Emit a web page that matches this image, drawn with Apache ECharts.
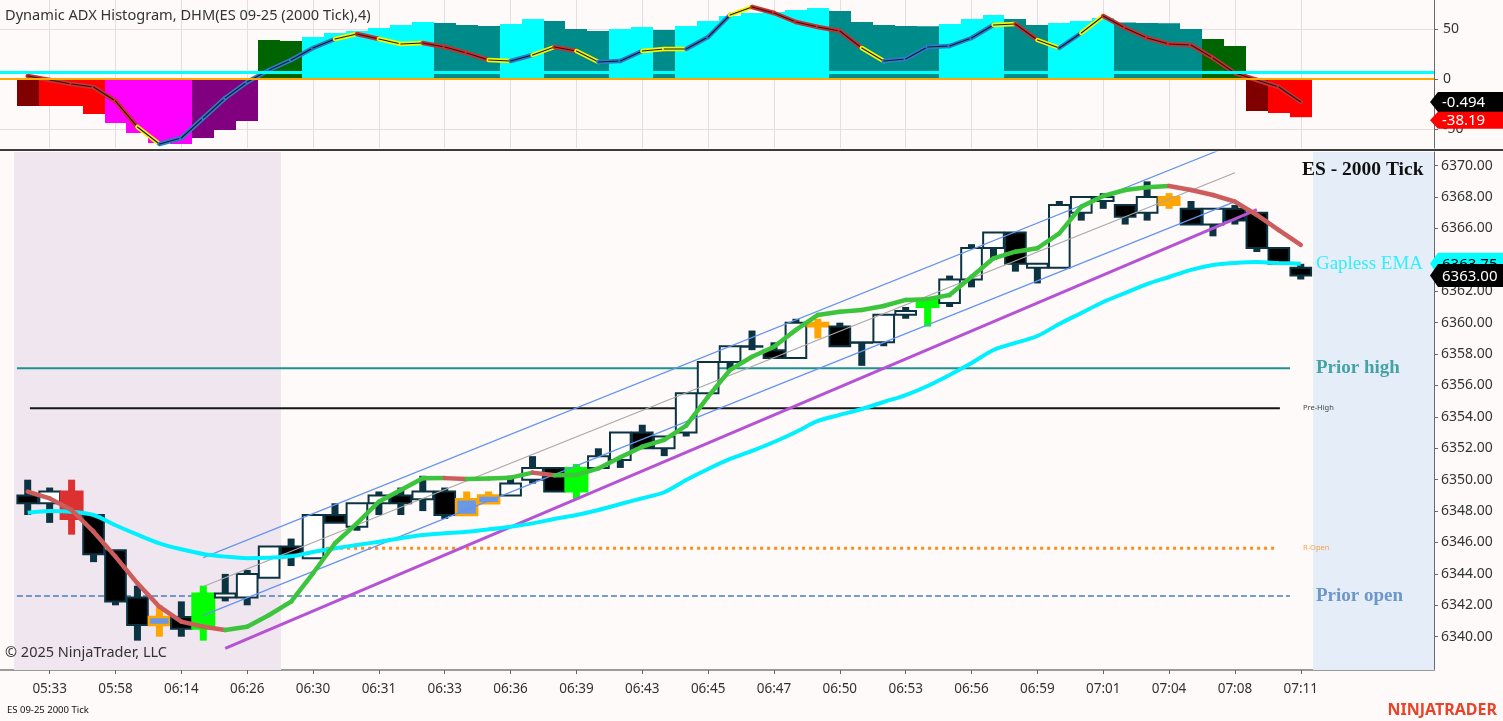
<!DOCTYPE html>
<html><head><meta charset="utf-8">
<script src="https://cdn.jsdelivr.net/npm/echarts@6/dist/echarts.min.js"></script>
<style>html,body{margin:0;padding:0;background:#fdfaf9;overflow:hidden}#c{width:1503px;height:721px}</style>
</head><body><div id="c"></div>
<script>
// ---------- DATA ----------
const timeLabels = ['05:33','05:58','06:14','06:26','06:30','06:31','06:33','06:36','06:39','06:43','06:45','06:47','06:50','06:53','06:56','06:59','07:01','07:04','07:08','07:11'];
const priceTicks = [6340,6342,6344,6346,6348,6350,6352,6354,6356,6358,6360,6362,6364,6366,6368,6370];
const adxTicks = [-50,0,50];

const opens  = [6349.0,6348.5,6349.25,6347.75,6345.5,6342.5,6340.75,6341.25,6340.5,6342.5,6342.5,6343.75,6345.75,6345.0,6347.75,6347.0,6348.5,6349.0,6348.75,6349.25,6347.75,6348.5,6349.0,6350.0,6350.75,6349.25,6350.75,6351.25,6353.0,6352.0,6353.0,6355.5,6357.5,6358.5,6358.25,6357.75,6359.75,6359.75,6358.75,6358.75,6360.5,6361.0,6361.25,6362.75,6364.75,6365.75,6363.5,6363.5,6367.0,6367.75,6367.5,6367.0,6367.5,6367.25,6366.25,6367.25,6367.0,6364.75,6363.5];
const closes = [6348.5,6349.25,6347.5,6345.25,6342.25,6340.75,6341.25,6340.5,6342.75,6342.75,6344.0,6345.75,6345.25,6347.75,6347.25,6348.5,6349.0,6348.5,6349.25,6347.75,6348.75,6349.0,6349.75,6350.75,6349.25,6350.75,6351.5,6353.0,6352.0,6352.75,6355.5,6357.5,6358.5,6358.5,6357.75,6360.0,6360.0,6358.5,6358.75,6360.5,6360.75,6361.5,6362.75,6364.75,6365.75,6363.75,6363.75,6367.5,6368.0,6368.0,6366.75,6368.0,6368.0,6366.25,6367.25,6366.5,6364.75,6363.75,6363.0];
const lows   = [6347.75,6347.25,6346.5,6344.75,6342.0,6339.75,6340.0,6340.0,6339.75,6342.25,6342.0,6343.75,6344.5,6345.0,6347.25,6346.75,6347.75,6347.75,6348.0,6347.5,6347.75,6348.5,6349.0,6349.75,6349.25,6348.75,6350.75,6350.75,6352.0,6351.5,6352.75,6355.5,6357.0,6358.25,6357.75,6357.75,6359.0,6358.5,6357.25,6358.5,6360.25,6359.75,6361.0,6362.25,6364.0,6363.25,6362.5,6363.5,6366.5,6367.25,6366.25,6366.5,6367.25,6366.25,6365.5,6366.25,6364.5,6363.75,6362.75];
const highs  = [6350.0,6349.5,6350.0,6347.75,6345.5,6343.25,6342.0,6342.25,6343.25,6344.0,6344.25,6345.75,6346.25,6347.75,6348.5,6348.5,6349.25,6349.5,6350.25,6349.5,6349.25,6349.25,6350.25,6351.5,6350.75,6351.0,6352.0,6353.0,6353.5,6352.75,6355.5,6357.5,6358.5,6359.5,6358.75,6360.25,6360.25,6360.0,6358.75,6360.5,6361.0,6361.5,6363.0,6365.0,6365.75,6365.75,6363.75,6367.75,6368.0,6368.25,6367.5,6369.0,6368.25,6367.75,6367.25,6367.5,6367.0,6364.75,6363.75];
// bar signal type per candle ('' = none)
const barSignal = ['','','sell','','','','hold','','buy','','','','','','','','','','','','hold','hold','','','','buy','','','','','','','','','','','mark','','','','','buy','','','','','','','','','','','mark','','','','','',''];

const smoothMA = [6349.24,6348.81,6348.07,6346.69,6345.1,6343.4,6341.91,6340.96,6340.64,6340.43,6340.64,6341.38,6342.23,6344.04,6345.95,6347.22,6348.6,6349.34,6350.09,6350.1,6350.05,6350.07,6350.13,6350.45,6350.28,6350.3,6350.72,6351.43,6352.1,6352.53,6353.45,6355.29,6356.99,6357.83,6358.47,6359.54,6360.49,6360.7,6360.81,6361.06,6361.45,6361.5,6361.76,6362.93,6364.1,6364.52,6364.74,6365.69,6367.39,6368.07,6368.45,6368.62,6368.7,6368.45,6368.13,6367.71,6366.86,6365.9,6364.95];
const gaplessEma = [6347.9,6348.0,6347.96,6347.75,6347.1,6346.5,6345.95,6345.57,6345.27,6345.1,6345.0,6345.03,6345.12,6345.4,6345.63,6345.84,6346.05,6346.27,6346.48,6346.59,6346.69,6346.84,6347.01,6347.22,6347.5,6347.75,6348.07,6348.45,6348.82,6349.2,6349.98,6350.68,6351.32,6351.83,6352.4,6353.04,6353.74,6354.13,6354.5,6354.95,6355.39,6355.97,6356.67,6357.43,6358.26,6358.71,6359.15,6359.92,6360.62,6361.32,6361.89,6362.46,6362.91,6363.36,6363.67,6363.8,6363.86,6363.8,6363.75];

const regStart = [8, 6343.2], regEnd = [55, 6369.55], regBand = 1.84;
const trendStart = [9, 6339.25], trendEnd = [56, 6367.2];

const priorHigh = 6357.1, preHigh = 6354.55, rOpen = 6345.63, priorOpen = 6342.6;
const priorHighSpan = [-0.49, 57.51], preHighSpan = [0.1, 57.05], rOpenSpan = [12.0, 56.96], priorOpenSpan = [-0.49, 57.51];
const sessionShade = [-0.62, 11.54];
const futureShade = 58.56;

// DHM histogram
const histValues = [-27,-27,-27,-35,-44,-54,-64,-65,-59,-51,-42,39,38,42,46,48,51,54,57,56,54,53,55,60,58,50,48,50,52,49,53,58,63,66,67,69,71,68,57,54,53,52.8,55,60,64,60,54,56,58,61,56.5,56,55.7,50,40,33,-32,-34,-38.19];
const histState = ['DR','R','R','R','M','M','M','M','P','P','P','DG','DG','C','C','C','C','C','C','T','T','T','C','C','T','T','T','C','C','T','C','C','C','C','C','C','C','T','T','T','T','T','C','C','C','T','T','C','C','C','T','T','T','T','DG','DG','DR','R','R'];
const adxLine = [3,-1,-5,-8,-22,-48,-65,-59,-39,-19,-3,9,19,31,40,45,40,35,36,32,26,19,18,24,32,28,17,18,28,30,30,42,64,72,66,57,52,48,31,18,20,32,33,41,54,55,39,31,46,63,51,41,35,34,21,6,-1,-8,-23];
const adxState = ['','D','D','D','D','D','Y','U','U','U','U','U','U','U','U','Y','D','Y','Y','D','D','D','Y','U','Y','D','Y','U','U','Y','Y','U','U','Y','D','D','D','D','D','Y','U','U','U','U','U','Y','D','Y','U','Y','D','D','D','D','D','D','D','D','D'];
const adxThreshold = 6.3;
const adxLastText = '-0.494';

// ---------- STYLE / LAYOUT ----------
const xMin = -1.262, xMax = 64.07;
const SANS = '"Noto Sans","Open Sans",sans-serif';
const SERIF = '"Liberation Serif","DejaVu Serif",serif';
const histColors = {DR:'#800000', R:'#ff0000', M:'#ff00ff', P:'#800080', DG:'#006400', C:'#00ffff', T:'#008b8b'};
const adxColors = {U:'#2a7ccc', Y:'#f5f500', D:'#cc2f2f'};
const idx = opens.map((_, i) => i);
const labelIdx = timeLabels.map((_, k) => 1 + 3 * k);

const chart = echarts.init(document.getElementById('c'));

function candleRender(params, api) {
  const i = params.dataIndex;
  const x0 = api.value(0);
  const pO = api.coord([x0, api.value(1)]), pC = api.coord([x0, api.value(2)]);
  const pL = api.coord([x0, api.value(3)]), pH = api.coord([x0, api.value(4)]);
  const bw = api.size([1, 0])[0];
  const x = pO[0];
  const up = api.value(2) >= api.value(1);
  const sig = barSignal[i];
  let fill = up ? '#ffffff' : '#000000', stroke = '#0c3342', wick = '#0c3342', bodyW = bw - 1.3, lw = 2;
  if (sig === 'sell') { fill = '#dd3030'; stroke = '#dd3030'; wick = '#dd3030'; bodyW = bw; }
  else if (sig === 'buy') { fill = '#00ff00'; stroke = '#00ff00'; wick = '#00ff00'; bodyW = bw; }
  else if (sig === 'hold') { fill = '#6a98e6'; stroke = '#ffa500'; wick = '#ffa500'; bodyW = bw - 1; lw = 2.5; }
  else if (sig === 'mark') { fill = '#ffa500'; stroke = '#ffa500'; wick = '#ffa500'; bodyW = bw - 1; }
  const top = Math.min(pO[1], pC[1]), bot = Math.max(pO[1], pC[1]);
  const wickW = 7;
  return {type: 'group', children: [
    {type: 'rect', shape: {x: x - wickW / 2, y: pH[1], width: wickW, height: pL[1] - pH[1]}, style: {fill: wick}},
    {type: 'rect', shape: {x: x - bodyW / 2, y: top, width: bodyW, height: Math.max(bot - top, 0.5)}, style: {fill: fill, stroke: stroke, lineWidth: lw}}
  ]};
}

function segRender(values, colorOf, width, core) {
  return function (params, api) {
    const i = params.dataIndex;
    if (i === 0) return null;
    const p0 = api.coord([i - 1, values[i - 1]]), p1 = api.coord([i, values[i]]);
    const ch = [{type: 'line', shape: {x1: p0[0], y1: p0[1], x2: p1[0], y2: p1[1]}, style: {stroke: colorOf(i), lineWidth: width, lineCap: 'round'}}];
    if (core) ch.push({type: 'line', shape: {x1: p0[0], y1: p0[1], x2: p1[0], y2: p1[1]}, style: {stroke: '#1a1a1a', lineWidth: 1.1, lineCap: 'round'}});
    return {type: 'group', children: ch};
  };
}

function histRender(params, api) {
  const i = params.dataIndex;
  const a = api.coord([i - 0.5, 0]), b = api.coord([i + 0.5, api.value(1)]);
  const x = Math.round(a[0]), w = Math.round(b[0]) - x;
  return {type: 'rect', shape: {x: x, y: Math.min(a[1], b[1]), width: w, height: Math.abs(b[1] - a[1])}, style: {fill: histColors[histState[i]]}};
}

function tagRender(tags, styles) {
  return function (params, api) {
    const t = tags[params.dataIndex], s = styles[params.dataIndex];
    const p = api.coord([xMax, t.value]);
    const x0 = p[0] - 4, y = p[1] + (s.dy || 0), h = s.h, x1 = 1503;
    return {type: 'group', children: [
      {type: 'polygon', shape: {points: [[x0, y], [x0 + 8, y - h / 2], [x1, y - h / 2], [x1, y + h / 2], [x0 + 8, y + h / 2]]}, style: {fill: s.bg}},
      {type: 'text', style: {x: x0 + 12, y: y + 1, text: t.text, fill: s.fg, font: '15px ' + SANS, verticalAlign: 'middle'}}
    ]};
  };
}

const mainTags = [{value: gaplessEma[58], text: gaplessEma[58].toFixed(2)}, {value: closes[58], text: closes[58].toFixed(2)}];
const mainTagStyles = [{bg: '#00ffff', fg: '#000', h: 22}, {bg: '#000', fg: '#fff', h: 23}];
const adxTags = [{value: adxLine[58], text: adxLastText}, {value: histValues[58], text: histValues[58].toFixed(2)}];
const adxTagStyles = [{bg: '#000', fg: '#fff', h: 20}, {bg: '#ff0000', fg: '#fff', h: 17, dy: 3}];

function hline(span, v) { return [[span[0], v], [span[1], v]]; }

const option = {
  backgroundColor: '#fdfaf9',
  animation: false,
  grid: [
    {left: 0, width: 1434, top: 0, height: 148},
    {left: 0, width: 1434, top: 152, height: 518}
  ],
  xAxis: [
    {gridIndex: 0, type: 'value', min: xMin, max: xMax, axisLine: {show: false, onZero: false},
     axisTick: {show: false, customValues: labelIdx}, axisLabel: {show: false},
     splitLine: {show: true, lineStyle: {color: '#e4dede', width: 1}}},
    {gridIndex: 1, type: 'value', min: xMin, max: xMax,
     axisLine: {show: true, onZero: false, lineStyle: {color: '#9a9a9a', width: 2}},
     axisTick: {show: true, customValues: labelIdx, length: 4, lineStyle: {color: '#666'}},
     axisLabel: {customValues: labelIdx, formatter: v => timeLabels[Math.round((v - 1) / 3)], color: '#333', fontSize: 13.5, fontFamily: SANS, margin: 12},
     splitLine: {show: false}}
  ],
  yAxis: [
    {gridIndex: 0, type: 'value', position: 'right', min: -69, max: 79,
     axisLine: {show: true, onZero: false, lineStyle: {color: '#6a6a6a'}},
     axisTick: {show: true, customValues: adxTicks, length: 4, lineStyle: {color: '#6a6a6a'}},
     axisLabel: {customValues: adxTicks, color: '#333', fontSize: 14, fontFamily: SANS, margin: 9},
     splitLine: {show: true, lineStyle: {color: '#e4dede'}}},
    {gridIndex: 1, type: 'value', position: 'right', min: 6337.88, max: 6370.87,
     axisLine: {show: true, onZero: false, lineStyle: {color: '#6a6a6a'}},
     axisTick: {show: true, customValues: priceTicks, length: 4, lineStyle: {color: '#6a6a6a'}},
     axisLabel: {customValues: priceTicks, formatter: v => v.toFixed(2), color: '#333', fontSize: 14, fontFamily: SANS, margin: 7},
     splitLine: {show: false}}
  ],
  graphic: [
    {type: 'text', left: 5, top: 8, z: 100, style: {text: 'Dynamic ADX Histogram, DHM(ES 09-25 (2000 Tick),4)', fill: '#333', font: '14.6px ' + SANS}},
    {type: 'line', z: 100, shape: {x1: 0, y1: 150, x2: 1503, y2: 150}, style: {stroke: '#3c3c3c', lineWidth: 2}},
    {type: 'text', left: 1302, top: 160, z: 100, style: {text: 'ES - 2000 Tick', fill: '#111', font: 'bold 19.5px ' + SERIF}},
    {type: 'text', left: 5, top: 645, z: 100, style: {text: '\u00a9 2025 NinjaTrader, LLC', fill: '#333', font: '14.5px ' + SANS}},
    {type: 'text', left: 7, top: 705, z: 100, style: {text: 'ES 09-25 2000 Tick', fill: '#111', font: '9.5px ' + SANS}},
    {type: 'text', right: 6, top: 702, z: 100, style: {text: 'NINJATRADER', fill: '#e8442a', font: 'bold 16px ' + SANS}}
  ],
  series: [
    // ---- top panel ----
    {type: 'custom', name: 'DHM', xAxisIndex: 0, yAxisIndex: 0, z: 1, renderItem: histRender,
     data: histValues.map((v, i) => [i, v]), encode: {x: 0, y: 1}, silent: true},
    {type: 'line', xAxisIndex: 0, yAxisIndex: 0, z: 3, data: [], silent: true,
     markLine: {symbol: 'none', silent: true, label: {show: false}, emphasis: {disabled: true},
       data: [{yAxis: adxThreshold, lineStyle: {color: '#00ffff', width: 3, type: 'solid'}},
              {yAxis: 0, lineStyle: {color: '#ffa500', width: 2, type: 'solid'}}]}},
    {type: 'custom', name: 'ADX', xAxisIndex: 0, yAxisIndex: 0, z: 4, silent: true,
     renderItem: segRender(adxLine, i => adxColors[adxState[i]], 4.5, true),
     data: adxLine.map((v, i) => [i, v]), encode: {x: 0, y: 1}},
    {type: 'custom', xAxisIndex: 0, yAxisIndex: 0, z: 10, silent: true, clip: false,
     renderItem: tagRender(adxTags, adxTagStyles), data: adxTags.map(t => [xMax, t.value]), encode: {x: 0, y: 1}},

    // ---- main panel ----
    {type: 'line', xAxisIndex: 1, yAxisIndex: 1, z: 0, data: [], silent: true,
     markArea: {silent: true, data: [
       [{xAxis: sessionShade[0], itemStyle: {color: '#f0e6ef'}}, {xAxis: sessionShade[1]}],
       [{xAxis: futureShade, itemStyle: {color: '#e5edf8'}}, {xAxis: xMax}]
     ]}},
    {type: 'line', xAxisIndex: 1, yAxisIndex: 1, z: 1, symbol: 'none', silent: true, data: hline(priorHighSpan, priorHigh), lineStyle: {color: '#1e9090', width: 2}},
    {type: 'line', xAxisIndex: 1, yAxisIndex: 1, z: 1, symbol: 'none', silent: true, data: hline(preHighSpan, preHigh), lineStyle: {color: '#161616', width: 2}},
    {type: 'line', xAxisIndex: 1, yAxisIndex: 1, z: 1, symbol: 'none', silent: true, data: hline(rOpenSpan, rOpen), lineStyle: {color: '#ff8c1a', width: 3, type: [3, 4]}},
    {type: 'line', xAxisIndex: 1, yAxisIndex: 1, z: 1, symbol: 'none', silent: true, data: hline(priorOpenSpan, priorOpen), lineStyle: {color: '#4a7fb8', width: 1.5, type: [6, 3]}},
    {type: 'custom', name: 'ES', xAxisIndex: 1, yAxisIndex: 1, z: 2, silent: true, renderItem: candleRender,
     data: idx.map(i => [i, opens[i], closes[i], lows[i], highs[i]]), encode: {x: 0, y: [1, 2, 3, 4]}},
    {type: 'line', xAxisIndex: 1, yAxisIndex: 1, z: 3, symbol: 'none', silent: true, data: [regStart, regEnd], lineStyle: {color: '#a8a8a8', width: 1.2}},
    {type: 'line', xAxisIndex: 1, yAxisIndex: 1, z: 3, symbol: 'none', silent: true, data: [[regStart[0], regStart[1] + regBand], [regEnd[0], regEnd[1] + regBand]], lineStyle: {color: '#6495ed', width: 1.2}},
    {type: 'line', xAxisIndex: 1, yAxisIndex: 1, z: 3, symbol: 'none', silent: true, data: [[regStart[0], regStart[1] - regBand], [regEnd[0], regEnd[1] - regBand]], lineStyle: {color: '#6495ed', width: 1.2}},
    {type: 'line', xAxisIndex: 1, yAxisIndex: 1, z: 3, symbol: 'none', silent: true, data: [trendStart, trendEnd], lineStyle: {color: '#b553d4', width: 3}},
    {type: 'line', xAxisIndex: 1, yAxisIndex: 1, z: 4, symbol: 'none', silent: true, smooth: 0.3,
     data: gaplessEma.map((v, i) => [i, v]), lineStyle: {color: '#00f0ff', width: 4}},
    {type: 'custom', name: 'MA', xAxisIndex: 1, yAxisIndex: 1, z: 5, silent: true,
     renderItem: segRender(smoothMA, i => smoothMA[i] >= smoothMA[i - 1] ? '#3cc43c' : '#cd5c5c', 4.5, false),
     data: smoothMA.map((v, i) => [i, v]), encode: {x: 0, y: 1}},
    {type: 'scatter', xAxisIndex: 1, yAxisIndex: 1, z: 6, symbolSize: 0, silent: true,
     label: {show: true, position: 'right', distance: 0, formatter: p => p.name},
     data: [
       {name: 'Prior high', value: [58.69, priorHigh], label: {color: '#1e9090', fontFamily: SERIF, fontWeight: 'bold', fontSize: 19}},
       {name: 'Prior open', value: [58.69, priorOpen], label: {color: '#4f81bd', fontFamily: SERIF, fontWeight: 'bold', fontSize: 19}},
       {name: 'Gapless EMA', value: [58.69, gaplessEma[58]], label: {color: '#00f0ff', fontFamily: SERIF, fontSize: 19}},
       {name: 'Pre-High', value: [58.1, preHigh], label: {color: '#111', fontFamily: SANS, fontSize: 7.5}},
       {name: 'R-Open', value: [58.1, rOpen], label: {color: '#ff8c1a', fontFamily: SANS, fontSize: 7.5}}
     ]},
    {type: 'custom', xAxisIndex: 1, yAxisIndex: 1, z: 10, silent: true, clip: false,
     renderItem: tagRender(mainTags, mainTagStyles), data: mainTags.map(t => [xMax, t.value]), encode: {x: 0, y: 1}}
  ]
};
chart.setOption(option);
</script>
</body></html>
